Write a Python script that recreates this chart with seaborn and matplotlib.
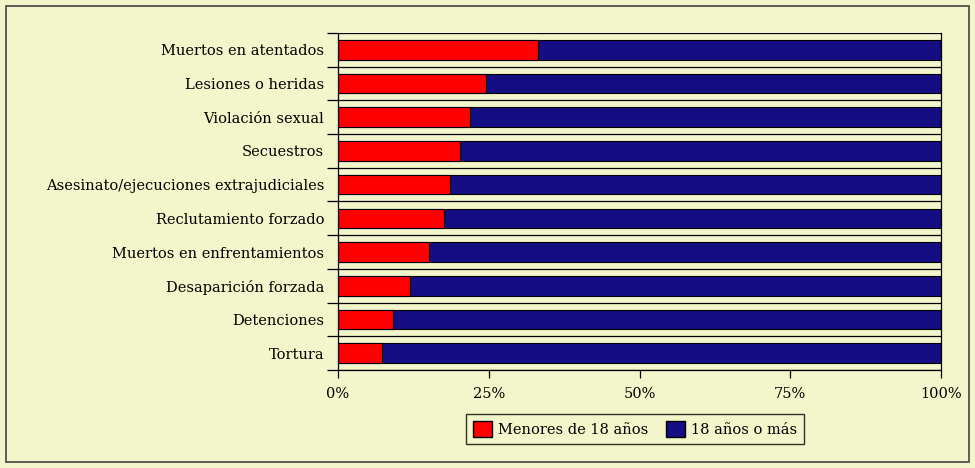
import numpy as np
import pandas as pd
import matplotlib
matplotlib.use("Agg")
import matplotlib.pyplot as plt
from matplotlib.patches import Patch, Rectangle
from matplotlib.ticker import FixedLocator, FuncFormatter
import seaborn as sns

categorias = [
    "Muertos en atentados",
    "Lesiones o heridas",
    "Violación sexual",
    "Secuestros",
    "Asesinato/ejecuciones extrajudiciales",
    "Reclutamiento forzado",
    "Muertos en enfrentamientos",
    "Desaparición forzada",
    "Detenciones",
    "Tortura",
]
menores = [33.1, 24.5, 21.9, 20.3, 18.6, 17.6, 15.1, 11.9, 9.1, 7.3]
total = [100] * len(categorias)
series = ["Menores de 18 años", "18 años o más"]
xticks = [0, 25, 50, 75, 100]

ROJO = "#FF0000"
AZUL = "#150D84"
FONDO = "#F2F6CA"

df = pd.DataFrame({"categoria": categorias, "menores": menores, "total": total})

sns.set_style("white")
plt.rcParams["font.family"] = ["DejaVu Serif"]
plt.rcParams["text.color"] = "black"
plt.rcParams["xtick.color"] = "black"
plt.rcParams["ytick.color"] = "black"
plt.rcParams["xtick.labelcolor"] = "black"
plt.rcParams["ytick.labelcolor"] = "black"

fig = plt.figure(figsize=(9.75, 4.68), dpi=100, facecolor=FONDO)
ax = fig.add_axes([338 / 975, 1 - 370 / 468, 603 / 975, 337 / 468])
ax.set_facecolor(FONDO)

# barra completa (18 años o más) y encima la parte de menores
sns.barplot(data=df, y="categoria", x="total", color=AZUL, orient="h",
            width=0.58, edgecolor="black", linewidth=0.8, saturation=1, ax=ax)
sns.barplot(data=df, y="categoria", x="menores", color=ROJO, orient="h",
            width=0.58, edgecolor="black", linewidth=0.8, saturation=1, ax=ax)

n = len(categorias)
ax.set_xlim(0, 100)
ax.set_ylim(n - 0.5, -0.5)
bordes = np.arange(n + 1) - 0.5
for b in bordes:
    ax.axhline(b, color="black", lw=0.9, zorder=0.5)

ax.yaxis.set_major_locator(FixedLocator(bordes))
ax.yaxis.set_major_formatter(FuncFormatter(lambda v, p: ""))
ax.yaxis.set_minor_locator(FixedLocator(np.arange(n)))
ax.set_yticklabels(categorias, minor=True)
ax.tick_params(axis="y", which="major", length=8, width=0.9, color="black", left=True)
ax.tick_params(axis="y", which="minor", length=0, labelsize=10.5, pad=10,
               labelcolor="black")

ax.set_xticks(xticks)
ax.set_xticklabels([f"{t}%" for t in xticks])
ax.tick_params(axis="x", length=6, width=0.9, color="black", bottom=True,
               labelsize=10.5, pad=6, labelcolor="black")
ax.set_xlabel("")
ax.set_ylabel("")

for s in ["left", "right", "bottom"]:
    ax.spines[s].set_visible(True)
    ax.spines[s].set_color("black")
    ax.spines[s].set_linewidth(0.9)
ax.spines["top"].set_visible(False)

handles = [Patch(facecolor=ROJO, edgecolor="black", label=series[0]),
           Patch(facecolor=AZUL, edgecolor="black", label=series[1])]
leg = fig.legend(handles=handles, loc="center", ncol=2,
                 bbox_to_anchor=(635 / 975, 1 - 429 / 468), frameon=True,
                 fancybox=False, edgecolor="black", facecolor=FONDO,
                 fontsize=10.5, handlelength=1.3, handleheight=1.3,
                 handletextpad=0.4, columnspacing=1.2, borderpad=0.5)
leg.get_frame().set_linewidth(1.0)
for t in leg.get_texts():
    t.set_color("black")

fig.patches.append(Rectangle((6 / 975, 6 / 468), 963 / 975, 456 / 468,
                             transform=fig.transFigure, fill=False,
                             edgecolor="#444444", lw=1.2))

fig.savefig("out.png", dpi=100, facecolor=FONDO)
